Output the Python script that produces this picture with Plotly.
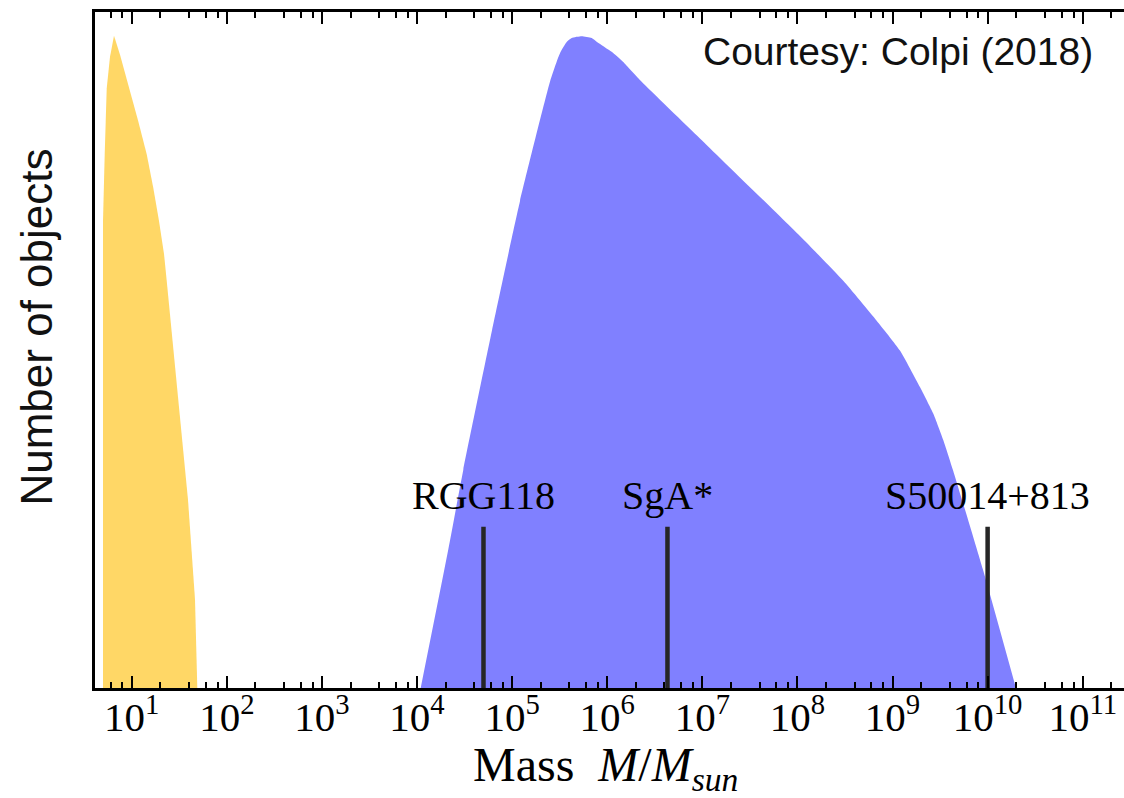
import numpy as np
import plotly.graph_objects as go

# ---- data ----
# stellar-mass black holes (yellow): log10(M/Msun) and relative number
stellar_logm = [0.6982, 0.6982, 0.7161, 0.7371, 0.7718, 0.8139, 0.8770, 0.9748, 1.0694,
                1.1577, 1.2271, 1.2870, 1.3396, 1.3680, 1.4868, 1.5919, 1.6655, 1.6897]
stellar_n = [0.0, 0.6907, 0.7894, 0.8870, 0.9337, 0.9647, 0.9367, 0.8870, 0.8380,
             0.7894, 0.7398, 0.6907, 0.6421, 0.6023, 0.4256, 0.2784, 0.1311, 0.0]

# massive black holes (blue)
massive_logm = [4.0386, 4.3288, 4.4865, 4.7882, 5.0826, 5.3981, 5.4685, 5.5106, 5.5736,
                5.6262, 5.7314, 5.8365, 5.8922, 6.0468, 6.1656, 6.3622, 6.9752, 8.0792,
                8.4819, 8.8331, 9.0781, 9.2883, 9.4282, 9.5333, 9.6353, 9.9507, 10.2976]
massive_n = [0.0, 0.2047, 0.3225, 0.5287, 0.7202, 0.8969, 0.9264, 0.9411, 0.9558,
             0.9617, 0.9642, 0.9617, 0.9558, 0.9411, 0.9264, 0.8969, 0.8130, 0.6613,
             0.6023, 0.5434, 0.4993, 0.4452, 0.4060, 0.3667, 0.3225, 0.1753, 0.0]

# marked objects
obj_names = ["RGG118", "SgA*", "S50014+813"]
obj_mass = [5.0e4, 4.3e6, 1.0e10]
obj_height = 0.2386
label_y = 0.2851

tick_exps = list(range(1, 12))
tick_vals = [10.0 ** e for e in tick_exps]
tick_text = [f"10<sup>{e}</sup>" for e in tick_exps]
minor_vals = [m * 10.0 ** e for e in range(0, 12) for m in (2, 4, 6, 8)]

x_range_log = [0.614, 11.434]

fig = go.Figure()

fig.add_trace(go.Scatter(
    x=10 ** np.array(stellar_logm), y=stellar_n, mode="lines",
    line=dict(width=0),
    fill="tozeroy", fillcolor="#FFD766", showlegend=False, hoverinfo="skip"))

fig.add_trace(go.Scatter(
    x=10 ** np.array(massive_logm), y=massive_n, mode="lines",
    line=dict(width=0, shape="spline", smoothing=0.5),
    fill="tozeroy", fillcolor="#8080FF", showlegend=False, hoverinfo="skip"))

for name, m in zip(obj_names, obj_mass):
    fig.add_trace(go.Scatter(
        x=[m, m], y=[0, obj_height], mode="lines",
        line=dict(color="#262626", width=4.5), showlegend=False, hoverinfo="skip"))
    fig.add_annotation(x=np.log10(m), y=label_y, text=name, showarrow=False,
                       xanchor="center", yanchor="middle",
                       font=dict(family="Liberation Serif", size=40, color="black"))

fig.add_annotation(x=0.9718, y=0.9416, xref="paper", yref="paper", xanchor="right",
                   yanchor="middle", showarrow=False, text="Courtesy: Colpi (2018)",
                   font=dict(family="Liberation Sans", size=39, color="#111111"))

# axis titles
fig.add_annotation(x=-0.0573, y=0.5333, xref="paper", yref="paper", xanchor="center",
                   yanchor="middle", showarrow=False, textangle=-90, text="Number of objects",
                   font=dict(family="Liberation Sans", size=44, color="#111111"))
fig.add_annotation(x=0.4961, y=-0.118, xref="paper", yref="paper", xanchor="center",
                   yanchor="middle", showarrow=False,
                   text="Mass&nbsp; <i>M</i>/<i>M</i><sub><i>sun</i></sub>",
                   font=dict(family="Liberation Serif", size=48, color="black"))

fig.update_xaxes(
    type="log", range=x_range_log, automargin=False,
    showline=True, linewidth=3, linecolor="black", mirror="allticks",
    ticks="inside", ticklen=12, tickwidth=1.5, tickcolor="black",
    tickmode="array", tickvals=tick_vals, ticktext=tick_text,
    tickfont=dict(family="Liberation Serif", size=41, color="black"),
    ticklabelstandoff=-9,
    minor=dict(ticks="inside", ticklen=6, tickwidth=1.5, tickcolor="black",
               tickmode="array", tickvals=minor_vals),
    showgrid=False, zeroline=False,
)
fig.update_yaxes(
    range=[0, 1], automargin=False, showline=True, linewidth=3, linecolor="black",
    showticklabels=False, ticks="", showgrid=False, zeroline=False,
)

fig.update_layout(
    width=1124, height=798,
    margin=dict(l=95, r=0, t=12, b=110),
    paper_bgcolor="white", plot_bgcolor="white",
)

fig.write_html("out.html", config={"displayModeBar": False},
               post_script="document.body.style.margin='0';")
